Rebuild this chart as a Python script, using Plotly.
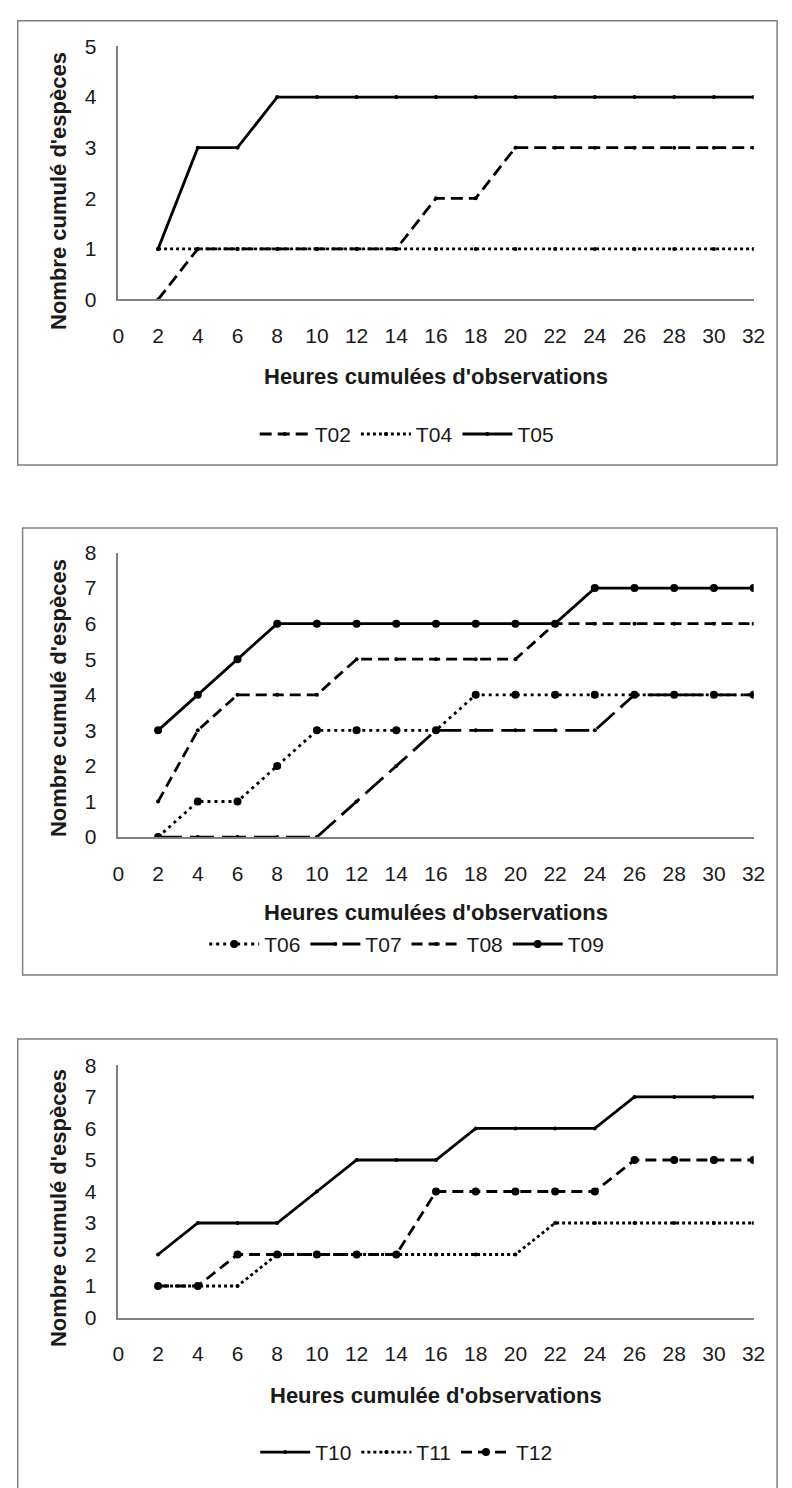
import plotly.graph_objects as go

hours = [2, 4, 6, 8, 10, 12, 14, 16, 18, 20, 22, 24, 26, 28, 30, 32]
x_ticks = list(range(0, 33, 2))

# Panel 1
T02 = [0, 1, 1, 1, 1, 1, 1, 2, 2, 3, 3, 3, 3, 3, 3, 3]
T04 = [1, 1, 1, 1, 1, 1, 1, 1, 1, 1, 1, 1, 1, 1, 1, 1]
T05 = [1, 3, 3, 4, 4, 4, 4, 4, 4, 4, 4, 4, 4, 4, 4, 4]
# Panel 2
T06 = [0, 1, 1, 2, 3, 3, 3, 3, 4, 4, 4, 4, 4, 4, 4, 4]
T07 = [0, 0, 0, 0, 0, 1, 2, 3, 3, 3, 3, 3, 4, 4, 4, 4]
T08 = [1, 3, 4, 4, 4, 5, 5, 5, 5, 5, 6, 6, 6, 6, 6, 6]
T09 = [3, 4, 5, 6, 6, 6, 6, 6, 6, 6, 6, 7, 7, 7, 7, 7]
# Panel 3
T10 = [2, 3, 3, 3, 4, 5, 5, 5, 6, 6, 6, 6, 7, 7, 7, 7]
T11 = [1, 1, 1, 2, 2, 2, 2, 2, 2, 2, 3, 3, 3, 3, 3, 3]
T12 = [1, 1, 2, 2, 2, 2, 2, 4, 4, 4, 4, 4, 5, 5, 5, 5]

y_title = "Nombre cumulé d'espèces"
x_titles = ["Heures cumulées d'observations", "Heures cumulées d'observations",
            "Heures cumulée d'observations"]

W, H = 792, 1488
FONT = "Liberation Sans, Arial, sans-serif"
LW = 2.8
TXT = "#1a1a1a"

def py(p):
    return 1 - p / H

def px(p):
    return p / W

fig = go.Figure()

def add(name, y, xa, ya, leg, dash, msym="circle", msize=4):
    fig.add_trace(go.Scatter(
        x=hours, y=y, name=name, mode="lines+markers",
        xaxis=xa, yaxis=ya, legend=leg,
        line=dict(color="black", width=LW, dash=dash),
        marker=dict(color="black", size=msize, symbol=msym),
    ))

add("T02", T02, "x", "y", "legend", "12px,6px")
add("T04", T04, "x", "y", "legend", "3px,3px")
add("T05", T05, "x", "y", "legend", "solid")

add("T06", T06, "x2", "y2", "legend2", "3px,4px", "circle", 8)
add("T07", T07, "x2", "y2", "legend2", "24px,8px", "circle", 4)
add("T08", T08, "x2", "y2", "legend2", "11px,6px", "circle", 4)
add("T09", T09, "x2", "y2", "legend2", "solid", "circle", 8)

add("T10", T10, "x3", "y3", "legend3", "solid", "circle", 4)
add("T11", T11, "x3", "y3", "legend3", "3px,3px", "circle", 4)
add("T12", T12, "x3", "y3", "legend3", "11px,6px", "circle", 8)

panels = [
    dict(top=35, bot=292, ymax=5, xt=370, lg=429, yt=182, fr=(12, 9, 789, 460)),
    dict(top=549, bot=838, ymax=8, xt=915, lg=947, yt=697, fr=(17, 524, 789, 978)),
    dict(top=1070, bot=1326, ymax=8, xt=1405, lg=1463, yt=1215, fr=(12, 1043, 789, 1500)),
]

x0p, x1p = 115, 765
layout = dict(
    width=W, height=H, margin=dict(l=0, r=0, t=0, b=0),
    paper_bgcolor="white", plot_bgcolor="white",
    font=dict(family=FONT, color=TXT, size=19),
)
shapes = []
annotations = []
for i, p in enumerate(panels):
    sx = "" if i == 0 else str(i + 1)
    layout["xaxis" + sx] = dict(
        domain=[px(x0p), px(x1p)], range=[0, 32], anchor="y" + sx,
        tickmode="array", tickvals=x_ticks, ticks="", showgrid=False,
        showline=True, linecolor="#808080", linewidth=1.5, zeroline=False,
        tickfont=dict(size=21, family=FONT, color=TXT),
        ticklabelstandoff=17,
    )
    layout["yaxis" + sx] = dict(
        domain=[py(p["bot"]), py(p["top"])], range=[0, p["ymax"]], anchor="x" + sx,
        tickmode="linear", tick0=0, dtick=1, ticks="", showgrid=False,
        showline=True, linecolor="#808080", linewidth=1.5, zeroline=False,
        tickfont=dict(size=21, family=FONT, color=TXT),
        ticklabelstandoff=16,
    )
    legkey = "legend" if i == 0 else "legend" + str(i + 1)
    layout[legkey] = dict(
        orientation="h", x=px(410), xanchor="center", y=py(p["lg"]), yanchor="middle",
        font=dict(size=21, family=FONT, color=TXT), bgcolor="rgba(0,0,0,0)",
        itemwidth=50, tracegroupgap=0,
    )
    annotations.append(dict(
        text="<b>%s</b>" % x_titles[i], x=px(440), y=py(p["xt"]), xref="paper", yref="paper",
        xanchor="center", yanchor="middle", showarrow=False,
        font=dict(size=22, family=FONT, color=TXT),
    ))
    annotations.append(dict(
        text="<b>%s</b>" % y_title, x=px(53), y=py(p["yt"]), xref="paper", yref="paper",
        xanchor="center", yanchor="middle", showarrow=False, textangle=-90,
        font=dict(size=22, family=FONT, color=TXT),
    ))
    fx0, fy0, fx1, fy1 = p["fr"]
    shapes.append(dict(
        type="rect", xref="paper", yref="paper",
        x0=px(fx0), x1=px(fx1), y0=py(fy1), y1=py(fy0),
        line=dict(color="#808080", width=1.5), fillcolor="rgba(0,0,0,0)", layer="below",
    ))

layout["shapes"] = shapes
layout["annotations"] = annotations
fig.update_layout(**layout)
fig.write_html("out.html")
